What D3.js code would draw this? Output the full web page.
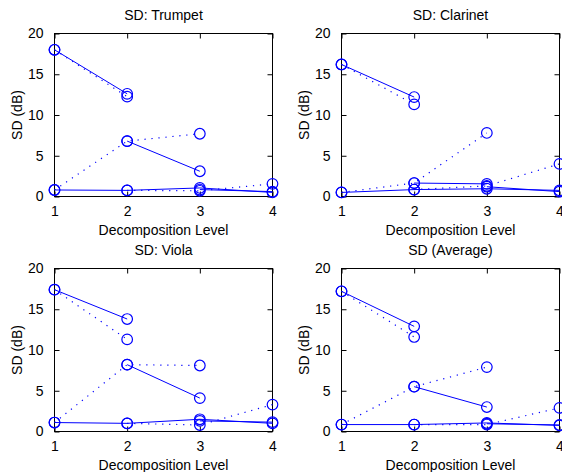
<!DOCTYPE html>
<html><head><meta charset="utf-8">
<script src="https://cdn.jsdelivr.net/npm/d3@7"></script>
<style>
html,body{margin:0;padding:0;background:#fff;}
svg text{font-family:"Liberation Sans",Arial,Helvetica,sans-serif;fill:#000;}
</style></head>
<body>
<svg id="chart" width="562" height="472"></svg>
<script>
// ---- data ----
const titles = ["SD: Trumpet", "SD: Clarinet", "SD: Viola", "SD (Average)"];
const levels = [1, 2, 3, 4];
const yTicks = [0, 5, 10, 15, 20];
const xLabel = "Decomposition Level";
const yLabel = "SD (dB)";

// solid-line series per panel: [level, SD]
const trumpetSolid = [
  [[1,18.0],[2,12.6]],
  [[2,6.8],[3,3.1]],
  [[1,0.8],[2,0.75],[3,1.05],[4,0.5]],
  [[3,0.85],[4,0.6]]
];
const trumpetDotted = [
  [[1,18.0],[2,12.25]],
  [[1,0.8],[2,6.8],[3,7.7]],
  [[2,0.75],[3,0.7],[4,1.55]]
];
const clarinetSolid = [
  [[1,16.2],[2,12.2]],
  [[2,1.65],[3,1.55]],
  [[1,0.5],[2,0.85],[3,0.95],[4,0.75]],
  [[3,1.2],[4,0.6]]
];
const clarinetDotted = [
  [[1,16.2],[2,11.3]],
  [[1,0.5],[2,1.65],[3,7.8]],
  [[2,0.85],[3,1.3],[4,4.0]]
];
const violaSolid = [
  [[1,17.4],[2,13.8]],
  [[2,8.2],[3,4.1]],
  [[1,1.1],[2,1.0],[3,1.5],[4,1.0]],
  [[3,1.3],[4,1.15]]
];
const violaDotted = [
  [[1,17.4],[2,11.3]],
  [[1,1.1],[2,8.2],[3,8.1]],
  [[2,1.0],[3,0.8],[4,3.3]]
];
const averageSolid = [
  [[1,17.2],[2,12.9]],
  [[2,5.5],[3,3.0]],
  [[1,0.85],[2,0.85],[3,1.05],[4,0.75]],
  [[3,0.95],[4,0.8]]
];
const averageDotted = [
  [[1,17.2],[2,11.6]],
  [[1,0.85],[2,5.5],[3,7.9]],
  [[2,0.85],[3,0.85],[4,2.9]]
];

const panelsSolid = [trumpetSolid, clarinetSolid, violaSolid, averageSolid];
const panelsDotted = [trumpetDotted, clarinetDotted, violaDotted, averageDotted];

// ---- layout ----
const boxes = [
  {x0:54.5, x1:272.5, y0:33.5, y1:196.5},
  {x0:341.5, x1:559.5, y0:33.5, y1:196.5},
  {x0:54.5, x1:272.5, y0:268.5, y1:431.5},
  {x0:341.5, x1:559.5, y0:268.5, y1:431.5}
];
const blue = "#0000ff";
const svg = d3.select("#chart");

boxes.forEach((b, i) => {
  const x = d3.scaleLinear().domain([1, 4]).range([b.x0, b.x1]);
  const y = d3.scaleLinear().domain([0, 20]).range([b.y1, b.y0]);
  const g = svg.append("g");

  // axes (inward ticks like MATLAB)
  const axB = d3.axisBottom(x).tickValues(levels).tickFormat(d3.format("d")).tickSizeInner(-5).tickSizeOuter(0).tickPadding(10);
  const axT = d3.axisTop(x).tickValues(levels).tickFormat("").tickSizeInner(-5).tickSizeOuter(0);
  const axL = d3.axisLeft(y).tickValues(yTicks).tickSizeInner(-5).tickSizeOuter(0).tickPadding(11);
  const axR = d3.axisRight(y).tickValues(yTicks).tickFormat("").tickSizeInner(-5).tickSizeOuter(0);

  [[axB, `translate(0,${b.y1})`], [axT, `translate(0,${b.y0})`], [axL, `translate(${b.x0},0)`], [axR, `translate(${b.x1},0)`]].forEach(([ax, tr]) => {
    const a = g.append("g").attr("transform", tr).call(ax);
    a.select(".domain").remove();
    a.selectAll("line").attr("stroke", "#000").attr("stroke-width", 1);
    a.selectAll("text").style("font-size", "14px").attr("fill", "#000");
  });

  g.append("rect").attr("x", b.x0).attr("y", b.y0).attr("width", b.x1 - b.x0).attr("height", b.y1 - b.y0)
    .attr("fill", "none").attr("stroke", "#000").attr("stroke-width", 1);

  // title
  g.append("text").attr("x", (b.x0 + b.x1) / 2).attr("y", b.y0 - 13.5)
    .attr("text-anchor", "middle").style("font-size", "14px").text(titles[i]);
  // x label
  g.append("text").attr("x", (b.x0 + b.x1) / 2).attr("y", b.y1 + 38)
    .attr("text-anchor", "middle").style("font-size", "14px").text(xLabel);
  // y label
  g.append("text").attr("transform", `translate(${b.x0 - 33},${(b.y0 + b.y1) / 2}) rotate(-90)`)
    .attr("text-anchor", "middle").style("font-size", "14px").text(yLabel);

  const line = d3.line().x(d => x(d[0])).y(d => y(d[1]));

  panelsSolid[i].forEach(s => {
    g.append("path").attr("d", line(s)).attr("fill", "none").attr("stroke", blue).attr("stroke-width", 1);
  });
  panelsDotted[i].forEach(s => {
    g.append("path").attr("d", line(s)).attr("fill", "none").attr("stroke", blue).attr("stroke-width", 1.2)
      .attr("stroke-dasharray", "1.2,5.8");
  });
  const pts = [].concat(...panelsSolid[i], ...panelsDotted[i]);
  g.selectAll("circle.m").data(pts).enter().append("circle")
    .attr("cx", d => x(d[0])).attr("cy", d => y(d[1])).attr("r", 5.3)
    .attr("fill", "none").attr("stroke", blue).attr("stroke-width", 1.2);
});
</script>
</body></html>
